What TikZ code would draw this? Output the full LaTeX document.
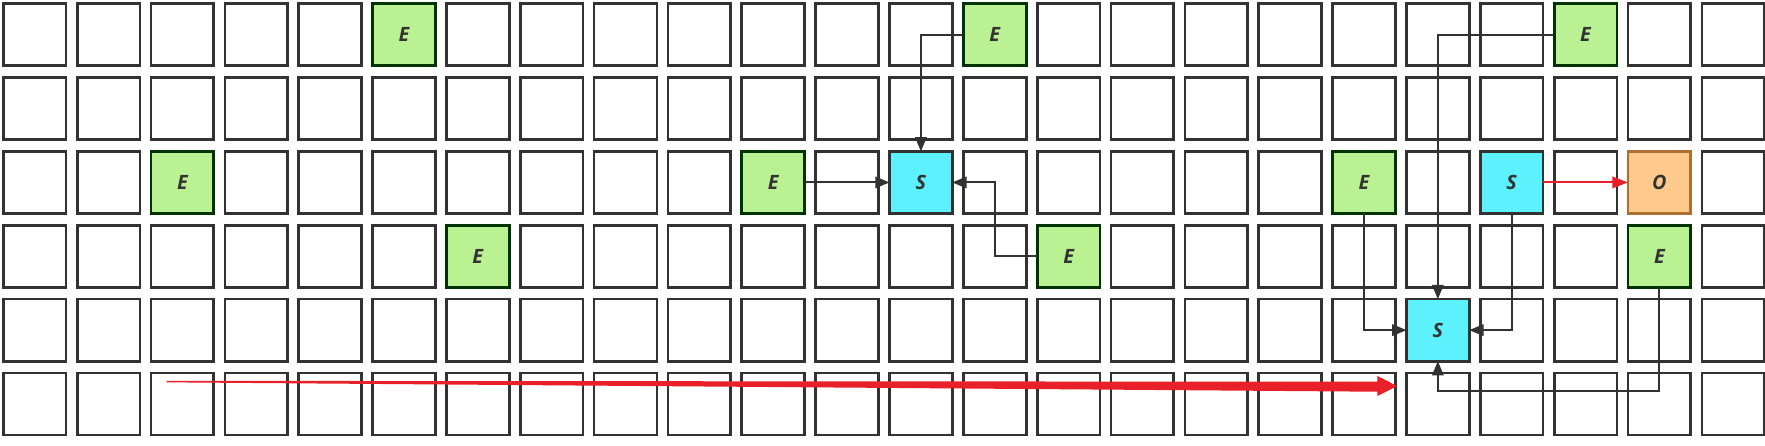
\documentclass[tikz,border=0pt]{standalone}
\usepackage{fontspec}
\usepackage{tikz}
\usetikzlibrary{arrows.meta,calc,positioning}
\newfontfamily\cellfont{Open Sans}
\definecolor{cellgreen}{RGB}{186,241,146}
\definecolor{cellcyan}{RGB}{92,241,252}
\definecolor{cellorange}{RGB}{255,201,140}
\definecolor{gridgray}{RGB}{50,50,50}
\definecolor{arrowred}{RGB}{232,32,42}

\begin{document}
\begin{tikzpicture}[x=1cm, y=1cm,
  cell/.style={draw=gridgray, line width=1.05pt, fill=white,
    minimum width=0.85cm, minimum height=0.84cm, inner sep=0pt, outer sep=0pt,
    font=\cellfont\bfseries\itshape\fontsize{7.6}{9}\selectfont, text=black!80},
  empcell/.style={cell, fill=cellgreen, draw=black!80!green},
  seedcell/.style={cell, fill=cellcyan},
  goalcell/.style={cell, fill=cellorange, draw=orange!60!black!80},
  link/.style={draw=gridgray, line width=0.75pt, -{Triangle[length=5.5pt,width=4.4pt]}},
  hotlink/.style={draw=arrowred, line width=0.75pt, -{Triangle[length=6pt,width=4.4pt]}}]
  \useasboundingbox (0,0) rectangle (23.9,-6.026);
  % three 8x6 boards side by side
  \foreach \i in {0,...,23}{
    \foreach \j in {0,...,5}{
      \node[cell] (c\i-\j) at (\i+0.47,-\j-0.47) {};
    }
  }
  % first board
  \node[empcell] (e1) at (c5-0) {E};
  \node[empcell] (e2) at (c2-2) {E};
  \node[empcell] (e3) at (c6-3) {E};
  % second board
  \node[empcell] (e4) at (c13-0) {E};
  \node[empcell] (e5) at (c10-2) {E};
  \node[empcell] (e6) at (c14-3) {E};
  \node[seedcell] (s1) at (c12-2) {S};
  % third board
  \node[empcell] (e7) at (c21-0) {E};
  \node[empcell] (e8) at (c18-2) {E};
  \node[empcell] (e9) at (c22-3) {E};
  \node[seedcell] (s2) at (c20-2) {S};
  \node[seedcell] (s3) at (c19-4) {S};
  \node[goalcell] (o1) at (c22-2) {O};

  \draw[link] (e4.west) -| (s1.north);
  \draw[link] (e5.east) -- (s1.west);
  \draw[link] (e6.west) -| (c13-2.center) -- (s1.east);

  \draw[link] (e7.west) -| (s3.north);
  \draw[link] (e8.south) |- (s3.west);
  \draw[link] (s2.south) |- (s3.east);
  \coordinate (loopturn) at (22.47,-5.30);
  \draw[link] (e9.south) -- (loopturn) -| (s3.south);
  \draw[hotlink] (s2.east) -- (o1.west);

  % tapered red sweep along the bottom row
  \coordinate (sweepstart) at (2.255,-5.167);
  \coordinate (sweeptip) at (18.92,-5.227);
  \fill[arrowred] ($(sweepstart)+(0,0.01)$) -- ($(sweeptip)+(-0.27,0.058)$)
    -- ($(sweeptip)+(-0.27,0.136)$) -- (sweeptip) -- ($(sweeptip)+(-0.27,-0.135)$)
    -- ($(sweeptip)+(-0.27,-0.077)$) -- ($(sweepstart)+(0,-0.01)$) -- cycle;
\end{tikzpicture}
\end{document}
